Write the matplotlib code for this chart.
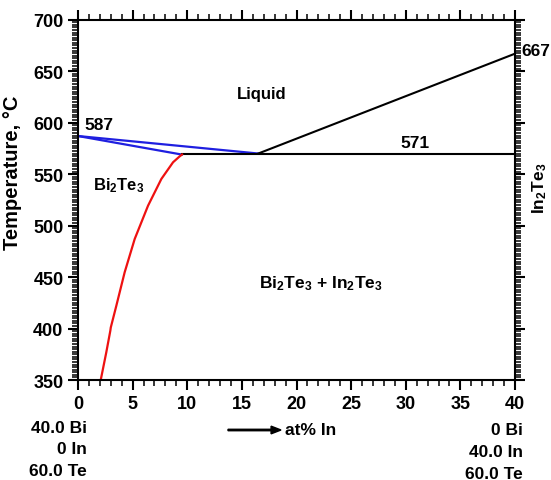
import numpy as np
import matplotlib
matplotlib.use('Agg')
import matplotlib.pyplot as plt

plt.rcParams['font.family'] = ['Liberation Sans', 'DejaVu Sans']
plt.rcParams['font.weight'] = 'bold'
plt.rcParams['mathtext.fontset'] = 'custom'
plt.rcParams['mathtext.default'] = 'bf'
plt.rcParams['mathtext.bf'] = 'Liberation Sans:bold'
plt.rcParams['mathtext.rm'] = 'Liberation Sans:bold'

# phase boundaries (x = at% In, T in C)
liq_blue_x = [0, 16.5]
liq_blue_T = [587, 570]
sol_blue_x = [0, 9.5]
sol_blue_T = [587, 569]
liq_black_x = [16.5, 40]
liq_black_T = [570, 667]
eut_x = [9.5, 40]
eut_T = [570, 570]
solvus_x = [2.08, 2.59, 2.96, 3.0, 3.51, 4.27, 5.19, 6.41, 7.63, 8.7, 9.31, 9.52]
solvus_T = [350, 376.9, 397.9, 401, 422.2, 454.6, 487, 519.3, 545.3, 561.5, 567.3, 569]

xticks = [0, 5, 10, 15, 20, 25, 30, 35, 40]
yticks = [350, 400, 450, 500, 550, 600, 650, 700]
xminor = np.arange(0, 41, 1)
yminor = np.arange(350, 700.1, 2.5)

fig = plt.figure(figsize=(5.51, 4.81), dpi=100)
ax = fig.add_axes([78/551, 1-381/481, 437/551, 360.3/481])

ax.plot(liq_blue_x, liq_blue_T, color='#1f1fe0', lw=1.6)
ax.plot(sol_blue_x, sol_blue_T, color='#1f1fe0', lw=1.6)
ax.plot(liq_black_x, liq_black_T, color='black', lw=1.5)
ax.plot(eut_x, eut_T, color='black', lw=1.5)
ax.plot(solvus_x, solvus_T, color='#ee1111', lw=1.6)

ax.set_xlim(0, 40)
ax.set_ylim(350, 700)
ax.set_xticks(xticks)
ax.set_yticks(yticks)
ax.set_xticks(xminor, minor=True)
ax.set_yticks(yminor, minor=True)
for s in ax.spines.values():
    s.set_linewidth(1.5)
ax.tick_params(which='both', direction='out', top=True, bottom=True, left=True, right=True)
ax.tick_params(which='major', length=7.5, width=1.5, pad=3, labelsize=13)
ax.tick_params(which='minor', length=4, width=1.1, color='black')
for lab in ax.get_xticklabels() + ax.get_yticklabels():
    lab.set_fontweight('bold')

ax.set_ylabel('Temperature, °C', fontsize=14.5, fontweight='bold')
ax.yaxis.set_label_coords(-0.128, 0.577)

ax.text(16.8, 628, 'Liquid', fontsize=12, ha='center', va='center')
ax.text(0.6, 598, '587', fontsize=12.5, ha='left', va='center')
ax.text(30.8, 581, '571', fontsize=12.5, ha='center', va='center')
ax.text(40.6, 670, '667', fontsize=12.5, ha='left', va='center', clip_on=False)
ax.text(3.7, 540, 'Bi$_2$Te$_3$', fontsize=12, ha='center', va='center')
ax.text(22.2, 445, 'Bi$_2$Te$_3$ + In$_2$Te$_3$', fontsize=12.5, ha='center', va='center')
fig.text(540/551, 1-188/481, 'In$_2$Te$_3$', fontsize=12.5, rotation=90, ha='center', va='center')

left_comp = ['40.0 Bi', '0 In', '60.0 Te']
right_comp = ['0 Bi', '40.0 In', '60.0 Te']
for i, t in enumerate(left_comp):
    fig.text(87/551, 1-(428.5 + 21.3*i)/481, t, fontsize=12.5, ha='right', va='center')
for i, t in enumerate(right_comp):
    fig.text(523/551, 1-(430.5 + 21.8*i)/481, t, fontsize=12.5, ha='right', va='center')

fig.text(285/551, 1-431/481, 'at% In', fontsize=12.5, ha='left', va='center')
fig.patches.append(matplotlib.patches.FancyArrow(228/551, 1-431/481, 53/551, 0,
                   width=0.003, head_width=0.016, head_length=0.018,
                   length_includes_head=True, color='black', transform=fig.transFigure))

fig.savefig('out.png', dpi=100)
